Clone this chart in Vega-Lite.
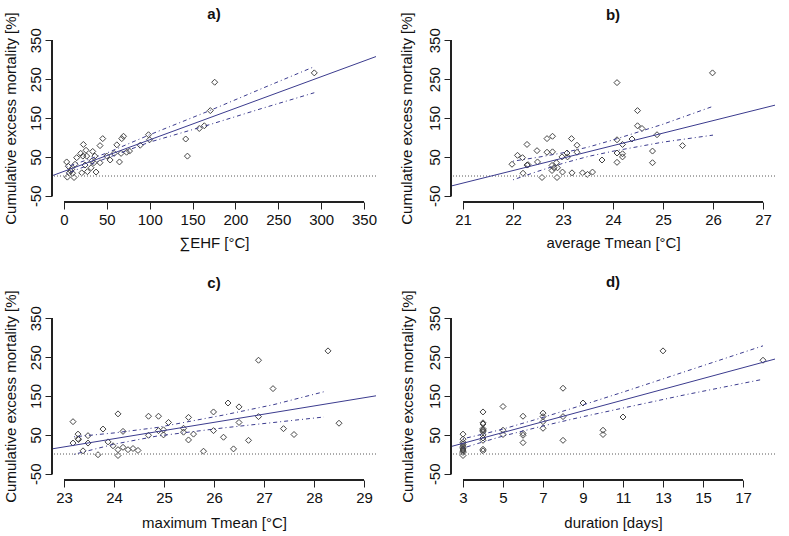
{
"$schema":"https://vega.github.io/schema/vega-lite/v6.json",
"background":"white",
"padding":{"left":2,"top":6,"right":5,"bottom":2},
"config":{"view":{"stroke":null},"font":"Liberation Sans",
"axis":{"domain":false,"grid":false,"tickColor":"#222","tickSize":7,"labelFont":"Liberation Sans","titleFont":"Liberation Sans","labelFontSize":15,"titleFontSize":15,"titleFontWeight":"normal","labelColor":"#111","titleColor":"#111","labelOverlap":false,"labelFlush":false,"labelExpr":"'' + datum.value"},
"axisX":{"labelPadding":3,"titleY":40,"titleBaseline":"middle","titleAlign":"center"},
"axisY":{"labelAngle":270,"labelAlign":"center","labelBaseline":"alphabetic","labelPadding":4.5,"titleX":-42,"titleY":84,"titleAngle":270,"titleAlign":"center","titleBaseline":"middle"},
"title":{"font":"Liberation Sans","fontSize":15,"fontWeight":"bold","frame":"group","baseline":"middle","color":"#111"}},
"bounds":"flush",
"columns":2,
"spacing":{"row":110,"column":75},
"datasets":{
"a":[
{"k":"p","x":3.1,"y":37},{"k":"p","x":3.9,"y":-2},{"k":"p","x":5,"y":26},{"k":"p","x":6.2,"y":9},{"k":"p","x":7.8,"y":14},{"k":"p","x":9,"y":18},{"k":"p","x":10,"y":8},{"k":"p","x":11.7,"y":-3},{"k":"p","x":12.9,"y":31},{"k":"p","x":14.8,"y":48},{"k":"p","x":19.5,"y":59},{"k":"p","x":20.7,"y":9},{"k":"p","x":22,"y":52},{"k":"p","x":22.6,"y":82},{"k":"p","x":24.5,"y":29},{"k":"p","x":25.7,"y":67},{"k":"p","x":26.5,"y":52},{"k":"p","x":27.3,"y":12},{"k":"p","x":31.6,"y":22},{"k":"p","x":32.3,"y":39},{"k":"p","x":33.5,"y":64},{"k":"p","x":35,"y":35},{"k":"p","x":36,"y":52},{"k":"p","x":37.4,"y":11},{"k":"p","x":42,"y":35},{"k":"p","x":42,"y":79},{"k":"p","x":45.2,"y":97},{"k":"p","x":49.9,"y":52},{"k":"p","x":53.8,"y":42},{"k":"p","x":58.5,"y":59},{"k":"p","x":61.6,"y":81},{"k":"p","x":64.7,"y":37},{"k":"p","x":66.6,"y":59},{"k":"p","x":67.4,"y":97},{"k":"p","x":69.4,"y":103},{"k":"p","x":73,"y":62},{"k":"p","x":76.4,"y":65},{"k":"p","x":88.9,"y":80},{"k":"p","x":98.6,"y":107},{"k":"p","x":99.8,"y":94},{"k":"p","x":142,"y":96},{"k":"p","x":144,"y":52},{"k":"p","x":157.8,"y":123},{"k":"p","x":163.7,"y":130},{"k":"p","x":170.7,"y":169},{"k":"p","x":175.8,"y":242},{"k":"p","x":292,"y":266},
{"k":"fit","x":-14,"y":1.5},{"k":"fit","x":364,"y":308},
{"k":"up","x":3,"y":24},{"k":"up","x":50,"y":60},{"k":"up","x":100,"y":107},{"k":"up","x":170,"y":169},{"k":"up","x":230,"y":225},{"k":"up","x":292,"y":282},
{"k":"lo","x":3,"y":7},{"k":"lo","x":50,"y":47},{"k":"lo","x":100,"y":88},{"k":"lo","x":170,"y":133},{"k":"lo","x":230,"y":174},{"k":"lo","x":292,"y":215}],
"b":[
{"k":"p","x":21.98,"y":31},{"k":"p","x":22.09,"y":54},{"k":"p","x":22.19,"y":48},{"k":"p","x":22.2,"y":8},{"k":"p","x":22.28,"y":82},{"k":"p","x":22.28,"y":29},{"k":"p","x":22.3,"y":30},{"k":"p","x":22.48,"y":66},{"k":"p","x":22.49,"y":37},{"k":"p","x":22.58,"y":-3},{"k":"p","x":22.68,"y":97},{"k":"p","x":22.68,"y":62},{"k":"p","x":22.79,"y":103},{"k":"p","x":22.79,"y":63},{"k":"p","x":22.78,"y":28},{"k":"p","x":22.78,"y":15},{"k":"p","x":22.82,"y":22},{"k":"p","x":22.87,"y":35},{"k":"p","x":22.88,"y":-3},{"k":"p","x":22.89,"y":22},{"k":"p","x":22.98,"y":50},{"k":"p","x":22.99,"y":11},{"k":"p","x":23.08,"y":60},{"k":"p","x":23.09,"y":50},{"k":"p","x":23.17,"y":97},{"k":"p","x":23.18,"y":9},{"k":"p","x":23.28,"y":80},{"k":"p","x":23.28,"y":62},{"k":"p","x":23.39,"y":9},{"k":"p","x":23.49,"y":5},{"k":"p","x":23.59,"y":11},{"k":"p","x":23.78,"y":42},{"k":"p","x":24.08,"y":241},{"k":"p","x":24.08,"y":94},{"k":"p","x":24.08,"y":60},{"k":"p","x":24.08,"y":36},{"k":"p","x":24.19,"y":82},{"k":"p","x":24.19,"y":58},{"k":"p","x":24.19,"y":50},{"k":"p","x":24.38,"y":96},{"k":"p","x":24.49,"y":169},{"k":"p","x":24.49,"y":130},{"k":"p","x":24.58,"y":123},{"k":"p","x":24.79,"y":65},{"k":"p","x":24.79,"y":35},{"k":"p","x":24.88,"y":107},{"k":"p","x":25.39,"y":79},{"k":"p","x":25.99,"y":266},
{"k":"fit","x":20.76,"y":-25},{"k":"fit","x":27.24,"y":183},
{"k":"up","x":22,"y":39},{"k":"up","x":22.5,"y":49},{"k":"up","x":23,"y":60.5},{"k":"up","x":23.5,"y":75},{"k":"up","x":24,"y":93.6},{"k":"up","x":25,"y":134},{"k":"up","x":26,"y":180},
{"k":"lo","x":22,"y":-9},{"k":"lo","x":22.5,"y":13},{"k":"lo","x":23,"y":33.5},{"k":"lo","x":23.5,"y":51},{"k":"lo","x":24,"y":64.6},{"k":"lo","x":25,"y":88},{"k":"lo","x":26,"y":106}],
"c":[
{"k":"p","x":23.18,"y":84},{"k":"p","x":23.18,"y":29},{"k":"p","x":23.28,"y":52},{"k":"p","x":23.28,"y":40},{"k":"p","x":23.29,"y":38},{"k":"p","x":23.38,"y":9},{"k":"p","x":23.48,"y":48},{"k":"p","x":23.48,"y":29},{"k":"p","x":23.68,"y":-1},{"k":"p","x":23.78,"y":65},{"k":"p","x":23.88,"y":32},{"k":"p","x":23.98,"y":22},{"k":"p","x":24.08,"y":104},{"k":"p","x":24.08,"y":12},{"k":"p","x":24.08,"y":-3},{"k":"p","x":24.18,"y":59},{"k":"p","x":24.18,"y":18},{"k":"p","x":24.28,"y":12},{"k":"p","x":24.38,"y":15},{"k":"p","x":24.48,"y":10},{"k":"p","x":24.69,"y":98},{"k":"p","x":24.69,"y":49},{"k":"p","x":24.89,"y":98},{"k":"p","x":24.89,"y":61},{"k":"p","x":24.99,"y":63},{"k":"p","x":24.99,"y":50},{"k":"p","x":25.09,"y":82},{"k":"p","x":25.39,"y":67},{"k":"p","x":25.39,"y":57},{"k":"p","x":25.49,"y":95},{"k":"p","x":25.49,"y":37},{"k":"p","x":25.59,"y":52},{"k":"p","x":25.79,"y":8},{"k":"p","x":25.99,"y":109},{"k":"p","x":25.99,"y":61},{"k":"p","x":26.19,"y":44},{"k":"p","x":26.28,"y":132},{"k":"p","x":26.39,"y":14},{"k":"p","x":26.5,"y":122},{"k":"p","x":26.5,"y":82},{"k":"p","x":26.69,"y":36},{"k":"p","x":26.89,"y":242},{"k":"p","x":26.89,"y":97},{"k":"p","x":27.18,"y":169},{"k":"p","x":27.39,"y":66},{"k":"p","x":27.6,"y":51},{"k":"p","x":28.28,"y":266},{"k":"p","x":28.5,"y":80},
{"k":"fit","x":22.76,"y":14},{"k":"fit","x":29.24,"y":150.5},
{"k":"up","x":23.2,"y":45},{"k":"up","x":24,"y":55},{"k":"up","x":24.86,"y":69},{"k":"up","x":26.19,"y":101},{"k":"up","x":27.2,"y":128},{"k":"up","x":28.2,"y":161},
{"k":"lo","x":23.2,"y":0},{"k":"lo","x":24,"y":26},{"k":"lo","x":24.86,"y":47},{"k":"lo","x":26.19,"y":68},{"k":"lo","x":27.2,"y":82},{"k":"lo","x":28.2,"y":96}],
"d":[
{"k":"p","x":3,"y":52},{"k":"p","x":3,"y":39},{"k":"p","x":3,"y":31},{"k":"p","x":3,"y":26},{"k":"p","x":3,"y":21},{"k":"p","x":3,"y":17},{"k":"p","x":3,"y":14},{"k":"p","x":3,"y":11},{"k":"p","x":3,"y":8},{"k":"p","x":3,"y":5},{"k":"p","x":3,"y":-3},
{"k":"p","x":4,"y":109},{"k":"p","x":4,"y":81},{"k":"p","x":4,"y":78},{"k":"p","x":4,"y":66},{"k":"p","x":4,"y":63},{"k":"p","x":4,"y":61},{"k":"p","x":4,"y":58},{"k":"p","x":4,"y":50},{"k":"p","x":4,"y":42},{"k":"p","x":4,"y":36},{"k":"p","x":4,"y":13},{"k":"p","x":4,"y":9},
{"k":"p","x":5,"y":123},{"k":"p","x":5,"y":62},{"k":"p","x":5,"y":51},
{"k":"p","x":6,"y":98},{"k":"p","x":6,"y":54},{"k":"p","x":6,"y":49},{"k":"p","x":6,"y":30},
{"k":"p","x":7,"y":106},{"k":"p","x":7,"y":97},{"k":"p","x":7,"y":84},{"k":"p","x":7,"y":67},
{"k":"p","x":8,"y":170},{"k":"p","x":8,"y":97},{"k":"p","x":8,"y":36},
{"k":"p","x":9,"y":132},{"k":"p","x":10,"y":62},{"k":"p","x":10,"y":51},{"k":"p","x":11,"y":96},{"k":"p","x":13,"y":266},{"k":"p","x":18,"y":242},
{"k":"fit","x":2.4,"y":20},{"k":"fit","x":18.6,"y":245},
{"k":"up","x":3,"y":40},{"k":"up","x":4,"y":52},{"k":"up","x":5,"y":65},{"k":"up","x":7,"y":95},{"k":"up","x":8.75,"y":123},{"k":"up","x":11,"y":160},{"k":"up","x":14,"y":211},{"k":"up","x":18,"y":279},
{"k":"lo","x":3,"y":16},{"k":"lo","x":4,"y":32},{"k":"lo","x":5,"y":47},{"k":"lo","x":7,"y":73},{"k":"lo","x":8.75,"y":94},{"k":"lo","x":11,"y":119},{"k":"lo","x":14,"y":152},{"k":"lo","x":18,"y":193}]
},
"concat":[
{"width":324,"height":168,"title":{"text":"a)","offset":-10},"data":{"name":"a"},
"layer":[
{"transform":[{"filter":"datum.k==='p'"}],"mark":{"type":"point","shape":"diamond","size":36,"filled":false,"color":"#444","strokeWidth":1,"opacity":1},
"encoding":{"x":{"field":"x","type":"quantitative","scale":{"domain":[-14,364],"nice":false,"zero":false},"axis":{"values":[0,50,100,150,200,250,300,350],"title":"∑EHF [°C]"}},
"y":{"field":"y","type":"quantitative","scale":{"domain":[-66,366],"nice":false,"zero":false},"axis":{"values":[-50,50,150,250,350],"title":"Cumulative excess mortality [%]"}}}},
{"mark":{"type":"rule","color":"#aaa","strokeDash":[1,2],"strokeWidth":1},"encoding":{"y":{"datum":0}}},
{"transform":[{"filter":"datum.k==='fit'"}],"mark":{"type":"line","color":"#3b3b8e","strokeWidth":1},"encoding":{"x":{"field":"x","type":"quantitative"},"y":{"field":"y","type":"quantitative"}}},
{"transform":[{"filter":"datum.k==='up' || datum.k==='lo'"}],"mark":{"type":"line","color":"#3b3b8e","strokeWidth":1,"strokeDash":[1,3,4,3]},"encoding":{"x":{"field":"x","type":"quantitative"},"y":{"field":"y","type":"quantitative"},"detail":{"field":"k"}}},
{"mark":{"type":"rule","color":"#222"},"encoding":{"x":{"datum":0},"x2":{"datum":350},"y":{"datum":-66}}},
{"mark":{"type":"rule","color":"#222"},"encoding":{"x":{"datum":-14},"y":{"datum":-50},"y2":{"datum":350}}}
]},
{"width":324,"height":168,"title":{"text":"b)","offset":-11.7},"data":{"name":"b"},
"layer":[
{"transform":[{"filter":"datum.k==='p'"}],"mark":{"type":"point","shape":"diamond","size":36,"filled":false,"color":"#444","strokeWidth":1,"opacity":1},
"encoding":{"x":{"field":"x","type":"quantitative","scale":{"domain":[20.76,27.24],"nice":false,"zero":false},"axis":{"values":[21,22,23,24,25,26,27],"title":"average Tmean [°C]"}},
"y":{"field":"y","type":"quantitative","scale":{"domain":[-66,366],"nice":false,"zero":false},"axis":{"values":[-50,50,150,250,350],"title":"Cumulative excess mortality [%]","titleX":-45}}}},
{"mark":{"type":"rule","color":"#aaa","strokeDash":[1,2],"strokeWidth":1},"encoding":{"y":{"datum":0}}},
{"transform":[{"filter":"datum.k==='fit'"}],"mark":{"type":"line","color":"#3b3b8e","strokeWidth":1},"encoding":{"x":{"field":"x","type":"quantitative"},"y":{"field":"y","type":"quantitative"}}},
{"transform":[{"filter":"datum.k==='up' || datum.k==='lo'"}],"mark":{"type":"line","color":"#3b3b8e","strokeWidth":1,"strokeDash":[1,3,4,3]},"encoding":{"x":{"field":"x","type":"quantitative"},"y":{"field":"y","type":"quantitative"},"detail":{"field":"k"}}},
{"mark":{"type":"rule","color":"#222"},"encoding":{"x":{"datum":21},"x2":{"datum":27},"y":{"datum":-66}}},
{"mark":{"type":"rule","color":"#222"},"encoding":{"x":{"datum":20.76},"y":{"datum":-50},"y2":{"datum":350}}}
]},
{"width":324,"height":168,"title":{"text":"c)","offset":-1.7},"data":{"name":"c"},
"layer":[
{"transform":[{"filter":"datum.k==='p'"}],"mark":{"type":"point","shape":"diamond","size":36,"filled":false,"color":"#444","strokeWidth":1,"opacity":1},
"encoding":{"x":{"field":"x","type":"quantitative","scale":{"domain":[22.76,29.24],"nice":false,"zero":false},"axis":{"values":[23,24,25,26,27,28,29],"title":"maximum Tmean [°C]","titleY":42}},
"y":{"field":"y","type":"quantitative","scale":{"domain":[-66,366],"nice":false,"zero":false},"axis":{"values":[-50,50,150,250,350],"title":"Cumulative excess mortality [%]"}}}},
{"mark":{"type":"rule","color":"#aaa","strokeDash":[1,2],"strokeWidth":1},"encoding":{"y":{"datum":0}}},
{"transform":[{"filter":"datum.k==='fit'"}],"mark":{"type":"line","color":"#3b3b8e","strokeWidth":1},"encoding":{"x":{"field":"x","type":"quantitative"},"y":{"field":"y","type":"quantitative"}}},
{"transform":[{"filter":"datum.k==='up' || datum.k==='lo'"}],"mark":{"type":"line","color":"#3b3b8e","strokeWidth":1,"strokeDash":[1,3,4,3]},"encoding":{"x":{"field":"x","type":"quantitative"},"y":{"field":"y","type":"quantitative"},"detail":{"field":"k"}}},
{"mark":{"type":"rule","color":"#222"},"encoding":{"x":{"datum":23},"x2":{"datum":29},"y":{"datum":-66}}},
{"mark":{"type":"rule","color":"#222"},"encoding":{"x":{"datum":22.76},"y":{"datum":-50},"y2":{"datum":350}}}
]},
{"width":324,"height":168,"title":{"text":"d)","offset":0},"data":{"name":"d"},
"layer":[
{"transform":[{"filter":"datum.k==='p'"}],"mark":{"type":"point","shape":"diamond","size":36,"filled":false,"color":"#444","strokeWidth":1,"opacity":1},
"encoding":{"x":{"field":"x","type":"quantitative","scale":{"domain":[2.4,18.6],"nice":false,"zero":false},"axis":{"values":[3,5,7,9,11,13,15,17],"title":"duration [days]","titleY":42}},
"y":{"field":"y","type":"quantitative","scale":{"domain":[-66,366],"nice":false,"zero":false},"axis":{"values":[-50,50,150,250,350],"title":"Cumulative excess mortality [%]","titleX":-44}}}},
{"mark":{"type":"rule","color":"#aaa","strokeDash":[1,2],"strokeWidth":1},"encoding":{"y":{"datum":0}}},
{"transform":[{"filter":"datum.k==='fit'"}],"mark":{"type":"line","color":"#3b3b8e","strokeWidth":1},"encoding":{"x":{"field":"x","type":"quantitative"},"y":{"field":"y","type":"quantitative"}}},
{"transform":[{"filter":"datum.k==='up' || datum.k==='lo'"}],"mark":{"type":"line","color":"#3b3b8e","strokeWidth":1,"strokeDash":[1,3,4,3]},"encoding":{"x":{"field":"x","type":"quantitative"},"y":{"field":"y","type":"quantitative"},"detail":{"field":"k"}}},
{"mark":{"type":"rule","color":"#222"},"encoding":{"x":{"datum":3},"x2":{"datum":17},"y":{"datum":-66}}},
{"mark":{"type":"rule","color":"#222"},"encoding":{"x":{"datum":2.4},"y":{"datum":-50},"y2":{"datum":350}}}
]}
]
}
